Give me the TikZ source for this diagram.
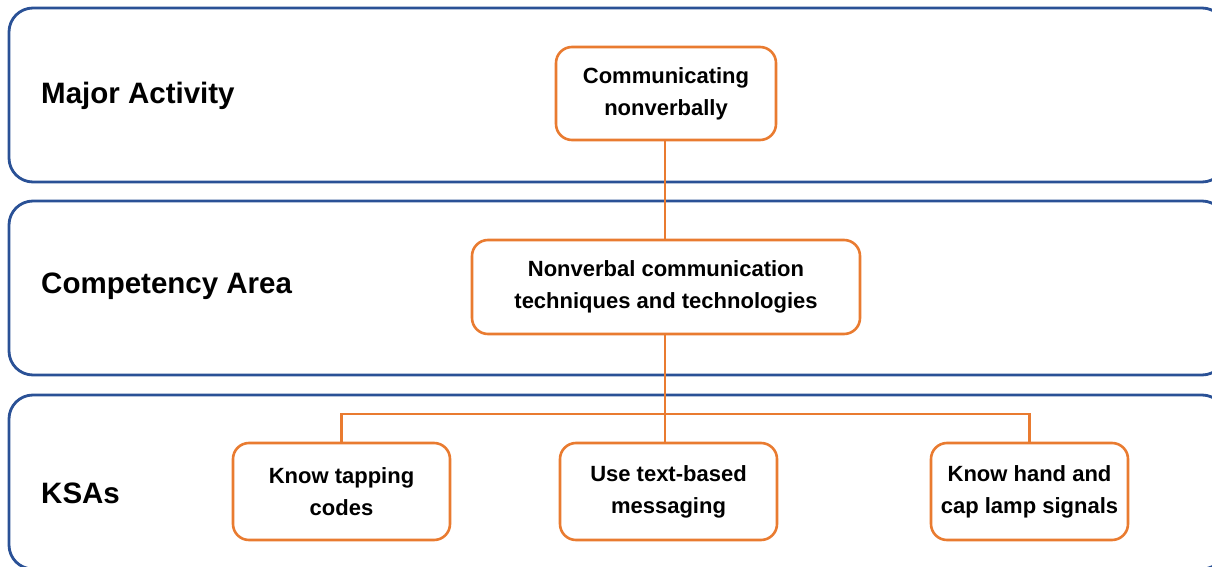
\documentclass[tikz,border=0pt]{standalone}
\usepackage{fontspec}
\setmainfont{Liberation Sans}
\definecolor{bandblue}{HTML}{2A5196}
\definecolor{boxorange}{HTML}{E97B30}
\begin{document}
\begin{tikzpicture}[x=1pt,y=-1pt,
  band/.style={draw=bandblue,line width=2.8pt,rounded corners=24pt},
  box/.style={draw=boxorange,line width=2.6pt,rounded corners=16pt,fill=white,
    align=center,inner sep=0pt,font=\fontsize{22}{32}\selectfont\bfseries},
  lvl/.style={anchor=west,inner sep=0pt,font=\fontsize{29.5}{34}\selectfont\bfseries},
  link/.style={draw=boxorange,line width=2.6pt}]
\useasboundingbox (0,0) rectangle (1212,567);
\begin{scope}
\clip (0,0) rectangle (1212,567);
\draw[band] (9,8) rectangle (1226,182);
\draw[band] (9,201) rectangle (1226,375);
\draw[band] (9,395) rectangle (1226,569);
\end{scope}
\node[lvl] (la) at (41,96) {Major Activity};
\node[lvl] (lc) at (41,286) {Competency Area};
\node[lvl] (lk) at (41,493) {KSAs};
\node[box,minimum width=220pt,minimum height=93pt] (ma) at (666,93.5) {Communicating\\nonverbally};
\node[box,minimum width=388pt,minimum height=94pt] (ca) at (666,287) {Nonverbal communication\\techniques and technologies};
\node[box,minimum width=217pt,minimum height=97pt] (k1) at (341.5,491.5) {Know tapping\\codes};
\node[box,minimum width=217pt,minimum height=97pt] (k2) at (668.5,491.5) {Use text-based\\messaging};
\node[box,minimum width=197pt,minimum height=97pt] (k3) at (1029.5,491.5) {Know hand and\\cap lamp signals};
\coordinate (hj) at (665,414);
\draw[link] (ma.south -| hj) -- (ca.north -| hj);
\draw[link] (ca.south -| hj) -- (k2.north -| hj);
\draw[link] (k1.north) -- (k1.north |- hj) -- (k3.north |- hj) -- (k3.north);
\end{tikzpicture}
\end{document}
